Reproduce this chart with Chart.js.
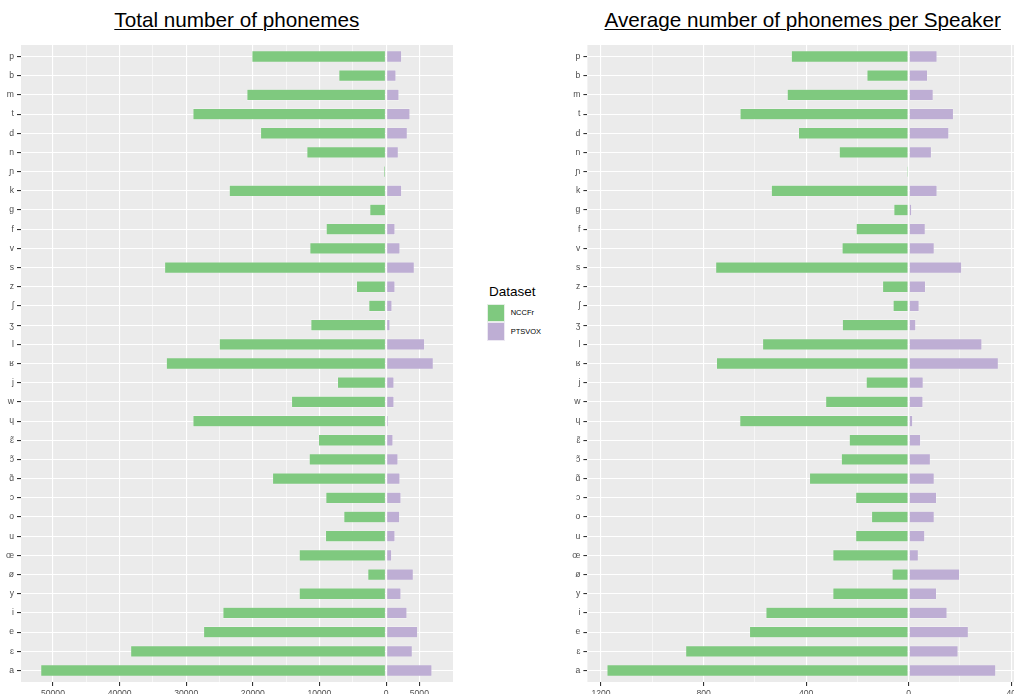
<!DOCTYPE html>
<html>
<head>
<meta charset="utf-8">
<script src="https://cdn.jsdelivr.net/npm/chart.js@4"></script>
<style>
  html, body { margin:0; padding:0; background:#ffffff; }
  body { width:1014px; height:694px; position:relative; overflow:hidden; font-family:"Liberation Sans", Arial, sans-serif; }
  .title { position:absolute; top:10px; font-size:20.7px; line-height:1; color:#000; text-align:center; white-space:nowrap;
           text-decoration:underline; text-decoration-thickness:1.4px; text-underline-offset:2px; }
  .box { position:absolute; top:0; }
  .legend-title { position:absolute; left:489px; top:284.6px; font-size:13.5px; line-height:1; color:#000; }
  .key { position:absolute; left:487.3px; width:17.7px; height:18.3px; box-sizing:border-box; }
  .key-label { position:absolute; left:510.7px; font-size:7.5px; line-height:1; color:#000; }
</style>
</head>
<body>
<div class="title" id="t1" style="left:37px; width:400px;">Total number of phonemes</div>
<div class="title" id="t2" style="left:552px; width:500px;">Average number of phonemes per Speaker</div>
<div class="box" style="left:0; width:453px; height:694px;"><canvas id="c1" width="453" height="694"></canvas></div>
<div class="box" style="left:560px; width:458px; height:694px;"><canvas id="c2" width="458" height="694"></canvas></div>
<div class="legend-title">Dataset</div>
<div class="key" style="top:304px; background:#7FC97F; border:1px solid #e4efe4;"></div>
<div class="key" style="top:322.3px; background:#BEAED4; border:1px solid #ece8f2;"></div>
<div class="key-label" style="top:309.3px;">NCCFr</div>
<div class="key-label" style="top:327.6px;">PTSVOX</div>
<script>
// ---------------- DATA ----------------
const categories = ['p','b','m','t','d','n','ɲ','k','g','f','v','s','z','ʃ','ʒ','l','ʁ','j','w','ɥ','ɛ̃','ɔ̃','ɑ̃','ɔ','o','u','œ','ø','y','i','e','ɛ','a'];
const seriesNames = ['NCCFr', 'PTSVOX'];

// Total number of phonemes
const nccfrTotal  = [20150, 7100, 20900, 29000, 18850, 11900, 350, 23550, 2450, 9000, 11450, 33250, 4450, 2600, 11300, 25050, 33000, 7300, 14200, 29000, 10150, 11550, 17050, 9050, 6350, 9100, 13050, 2750, 13050, 24500, 27400, 38350, 51850];
const ptsvoxTotal = [2350, 1500, 1950, 3600, 3200, 1850, 0, 2350, 250, 1350, 2100, 4250, 1350, 900, 600, 5800, 7100, 1200, 1200, 350, 1050, 1800, 2100, 2250, 2050, 1350, 850, 4100, 2250, 3150, 4750, 3950, 6900];

// Average number of phonemes per speaker
const nccfrAvg  = [458, 163, 474, 658, 430, 271, 8, 536, 58, 205, 260, 753, 102, 61, 259, 570, 750, 166, 324, 659, 232, 263, 387, 207, 145, 207, 296, 65, 296, 557, 621, 870, 1177];
const ptsvoxAvg = [11.1, 7.4, 9.6, 17.5, 15.7, 8.9, 0, 11.1, 1.2, 6.5, 10.0, 20.7, 6.6, 4.1, 2.8, 28.6, 35.0, 5.7, 5.6, 1.6, 4.7, 8.5, 10.0, 10.9, 10.0, 6.3, 3.8, 19.9, 10.9, 15.0, 23.3, 19.3, 34.0];

// Tick labels (left: NCCFr side, right: PTSVOX side)
const totalNegTickLabels = [50000, 40000, 30000, 20000, 10000];
const totalPosTickLabels = [0, 5000];
const totalNegMinor = [45000, 35000, 25000, 15000, 5000];
const avgNegTickLabels = [1200, 800, 400];
const avgPosTickLabels = [0, 40];
const avgNegMinor = [1000, 600, 200];
const avgPosMinor = [20];

// PTSVOX side of the right panel is drawn on a ×10 axis (label "40" sits where 400 would be)
const totalPosFactor = 1;
const avgPosFactor = 10;

// ---------------- STYLE ----------------
const GREEN = '#7FC97F', PURPLE = '#BEAED4';
const FONT = '"Liberation Sans", Arial, sans-serif';

const panelBg = {
  id: 'panelBg',
  beforeDraw(chart) {
    const a = chart.chartArea, ctx = chart.ctx;
    ctx.save(); ctx.fillStyle = '#EBEBEB';
    ctx.fillRect(a.left, a.top, a.right - a.left, a.bottom - a.top);
    ctx.restore();
  }
};

function makeChart(canvasId, negVals, posVals, posFactor, negLabels, posLabels, negMinor, posMinor, xmin, xmax, yAxisWidth) {
  const majorTicks = [];
  negLabels.forEach(v => majorTicks.push({ value: -v, label: String(v) }));
  posLabels.forEach(v => majorTicks.push({ value: v * posFactor, label: String(v) }));
  const minorVals = negMinor.map(v => -v).concat(posMinor.map(v => v * posFactor));
  const majorSet = new Set(majorTicks.map(t => t.value));
  const labelMap = new Map(majorTicks.map(t => [t.value, t.label]));
  const allTicks = majorTicks.map(t => t.value).concat(minorVals).sort((a, b) => a - b);

  const n = categories.length;
  return new Chart(document.getElementById(canvasId), {
    type: 'bar',
    data: {
      labels: categories,
      datasets: [
        { label: seriesNames[0], data: negVals.map(v => -v), backgroundColor: GREEN,
          borderColor: 'rgba(255,255,255,0.45)', borderWidth: 0.6, borderSkipped: false },
        { label: seriesNames[1], data: posVals.map(v => v * posFactor), backgroundColor: PURPLE,
          borderColor: 'rgba(255,255,255,0.45)', borderWidth: 0.6, borderSkipped: false }
      ]
    },
    options: {
      indexAxis: 'y',
      responsive: false,
      animation: false,
      devicePixelRatio: 1,
      layout: { padding: { top: 45, left: 0, right: 0, bottom: 0 } },
      barPercentage: 0.6,
      categoryPercentage: 1,
      plugins: { legend: { display: false }, tooltip: { enabled: false }, title: { display: false } },
      scales: {
        x: {
          type: 'linear', stacked: true, min: xmin, max: xmax,
          border: { display: false },
          afterBuildTicks: s => { s.ticks = allTicks.map(v => ({ value: v })); },
          afterFit: s => { s.height = 12; },
          grid: {
            color: '#FFFFFF',
            lineWidth: c => (c.tick && majorSet.has(c.tick.value)) ? 1.1 : 0.55,
            tickColor: c => (c.tick && majorSet.has(c.tick.value)) ? '#333333' : 'rgba(0,0,0,0)',
            tickLength: 4, tickWidth: 1.1, drawTicks: true
          },
          ticks: {
            autoSkip: false, maxRotation: 0, minRotation: 0, padding: 2,
            color: '#4D4D4D', font: { family: FONT, size: 8.6 },
            callback: v => labelMap.has(v) ? labelMap.get(v) : ''
          }
        },
        y: {
          type: 'category', stacked: true, offset: false,
          border: { display: false },
          afterBuildTicks: s => { s._startValue = -0.6; s._valueRange = (n - 1) + 1.2; },
          afterFit: s => { s.width = yAxisWidth; },
          grid: { offset: false, color: '#FFFFFF', lineWidth: 1.1, tickColor: '#333333', tickLength: 4, tickWidth: 1.1 },
          ticks: { autoSkip: false, padding: 3, color: '#4D4D4D', font: { family: FONT, size: 8.6 } }
        }
      }
    },
    plugins: [panelBg]
  });
}

makeChart('c1', nccfrTotal, ptsvoxTotal, totalPosFactor, totalNegTickLabels, totalPosTickLabels, totalNegMinor, [], -54800, 10050, 21);
makeChart('c2', nccfrAvg, ptsvoxAvg, avgPosFactor, avgNegTickLabels, avgPosTickLabels, avgNegMinor, avgPosMinor, -1253, 426, 27.4);

// centre the titles over their panels
(function () {
  const t1 = document.getElementById('t1'), t2 = document.getElementById('t2');
  t1.style.left = (236.8 - 200) + 'px';
  t2.style.left = (802.7 - 250) + 'px';
})();
</script>
</body>
</html>
